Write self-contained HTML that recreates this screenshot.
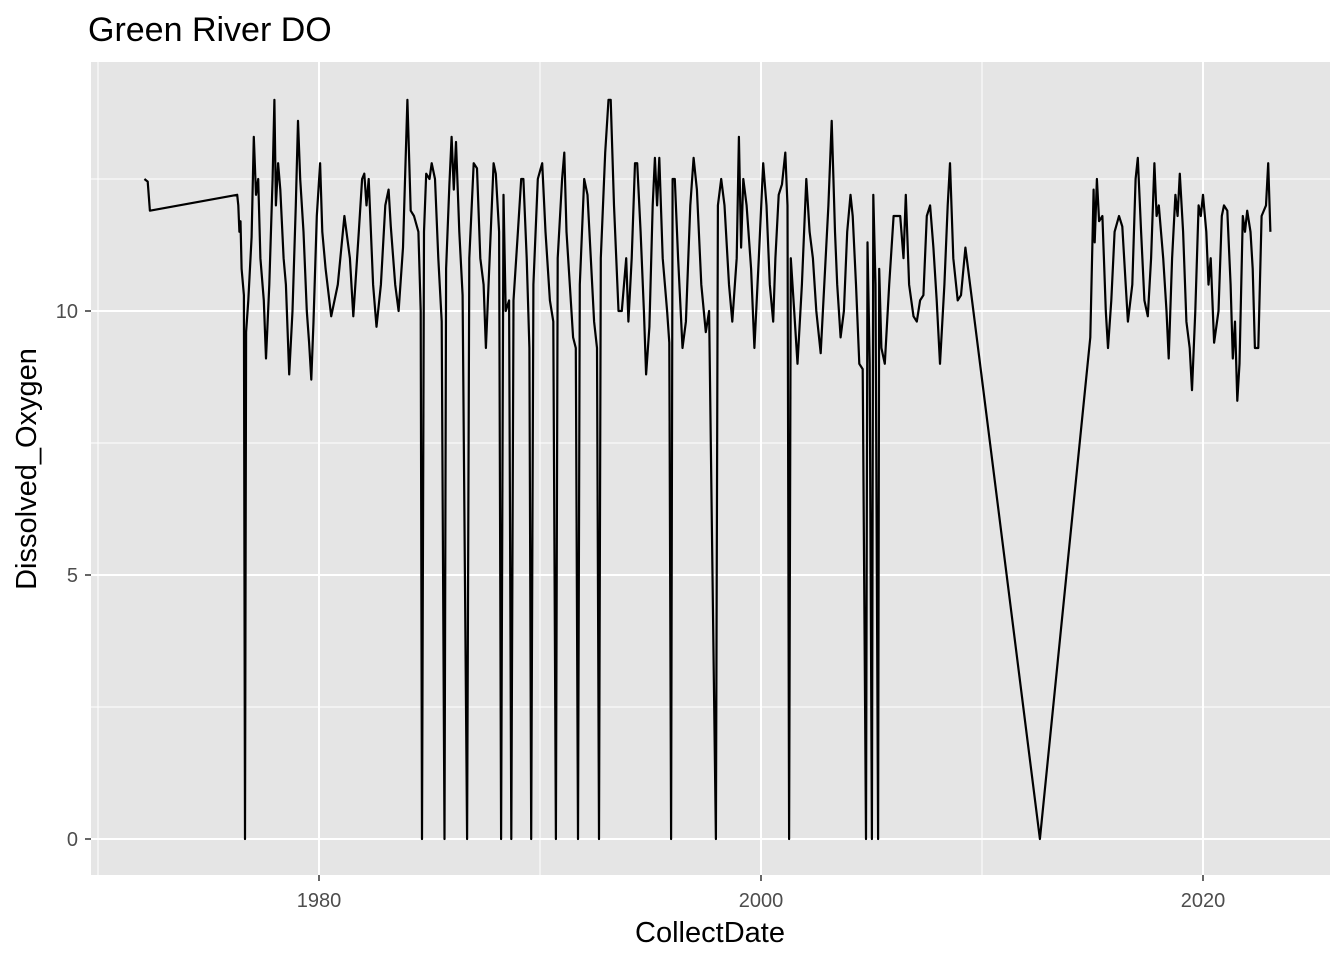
<!DOCTYPE html>
<html><head><meta charset="utf-8"><style>
body{margin:0;background:#fff;}
svg text{font-family:"Liberation Sans",Arial,sans-serif;}
</style></head><body>
<svg id="chart" width="1344" height="960">
<text x="88" y="41" font-size="34" fill="#000">Green River DO</text>
<rect x="91" y="62" width="1239" height="813" fill="#e5e5e5"/>
<g id="grid"></g>
<g id="axes"></g>
<path id="line" fill="none" stroke="#000" stroke-width="2.2" stroke-linejoin="round"/>
<text x="710" y="942" font-size="29" text-anchor="middle">CollectDate</text>
<text transform="translate(36,469) rotate(-90)" font-size="29" text-anchor="middle">Dissolved_Oxygen</text>
</svg>
<script>
const years=[1972.1,1972.25,1972.35,1976.3,1976.35,1976.4,1976.45,1976.5,1976.6,1976.65,1976.7,1976.8,1976.95,1977.05,1977.15,1977.25,1977.35,1977.5,1977.6,1977.75,1977.9,1977.98,1978.05,1978.15,1978.25,1978.4,1978.5,1978.65,1978.8,1978.95,1979.05,1979.15,1979.3,1979.45,1979.55,1979.65,1979.75,1979.9,1980.05,1980.15,1980.3,1980.55,1980.85,1981.15,1981.4,1981.55,1981.8,1981.95,1982.05,1982.15,1982.25,1982.45,1982.6,1982.8,1983.0,1983.15,1983.25,1983.45,1983.6,1983.8,1984.0,1984.15,1984.3,1984.5,1984.6,1984.66,1984.75,1984.85,1985.0,1985.1,1985.25,1985.4,1985.55,1985.68,1985.75,1985.9,1986.0,1986.1,1986.2,1986.35,1986.5,1986.7,1986.8,1987.0,1987.15,1987.3,1987.45,1987.55,1987.7,1987.9,1988.0,1988.15,1988.24,1988.35,1988.45,1988.6,1988.7,1988.8,1989.0,1989.15,1989.25,1989.4,1989.52,1989.6,1989.7,1989.9,1990.1,1990.25,1990.45,1990.6,1990.72,1990.8,1991.0,1991.1,1991.2,1991.35,1991.5,1991.62,1991.72,1991.8,1992.0,1992.15,1992.3,1992.45,1992.58,1992.67,1992.75,1992.95,1993.1,1993.2,1993.35,1993.55,1993.7,1993.9,1994.0,1994.15,1994.3,1994.4,1994.55,1994.7,1994.8,1994.95,1995.1,1995.2,1995.3,1995.4,1995.55,1995.75,1995.85,1995.93,1996.0,1996.1,1996.25,1996.45,1996.6,1996.8,1996.95,1997.1,1997.3,1997.5,1997.65,1997.96,1998.05,1998.2,1998.35,1998.55,1998.7,1998.9,1999.0,1999.1,1999.2,1999.35,1999.55,1999.7,1999.9,2000.1,2000.25,2000.4,2000.55,2000.65,2000.8,2000.95,2001.1,2001.2,2001.27,2001.35,2001.5,2001.65,2001.85,2002.05,2002.2,2002.35,2002.5,2002.7,2002.9,2003.05,2003.2,2003.35,2003.45,2003.6,2003.75,2003.9,2004.05,2004.15,2004.3,2004.45,2004.6,2004.75,2004.82,2004.92,2005.02,2005.08,2005.18,2005.3,2005.35,2005.45,2005.6,2005.8,2006.0,2006.3,2006.45,2006.55,2006.7,2006.9,2007.05,2007.2,2007.35,2007.5,2007.65,2007.8,2007.95,2008.1,2008.3,2008.45,2008.55,2008.7,2008.9,2009.05,2009.25,2012.62,2014.9,2015.05,2015.1,2015.2,2015.3,2015.45,2015.6,2015.7,2015.85,2016.0,2016.2,2016.35,2016.5,2016.6,2016.8,2016.95,2017.05,2017.2,2017.35,2017.5,2017.65,2017.8,2017.9,2018.0,2018.2,2018.35,2018.45,2018.6,2018.75,2018.85,2018.95,2019.1,2019.25,2019.4,2019.5,2019.65,2019.8,2019.9,2020.0,2020.15,2020.25,2020.35,2020.5,2020.7,2020.85,2020.95,2021.1,2021.25,2021.35,2021.45,2021.55,2021.65,2021.8,2021.9,2022.0,2022.15,2022.25,2022.35,2022.5,2022.65,2022.85,2022.95,2023.05];
const oxygen=[12.5,12.45,11.9,12.2,12.0,11.5,11.7,10.8,10.3,0,9.6,10.2,11.4,13.3,12.2,12.5,11.0,10.2,9.1,10.5,12.5,14.0,12.0,12.8,12.3,11.0,10.5,8.8,10.0,12.0,13.6,12.5,11.5,10.0,9.4,8.7,9.8,11.8,12.8,11.5,10.8,9.9,10.5,11.8,11.0,9.9,11.5,12.5,12.6,12.0,12.5,10.5,9.7,10.5,12.0,12.3,11.6,10.5,10.0,11.2,14.0,11.9,11.8,11.5,10.0,0,11.5,12.6,12.5,12.8,12.5,11.0,9.8,0,10.8,12.4,13.3,12.3,13.2,11.5,10.3,0,11.0,12.8,12.7,11.0,10.5,9.3,10.8,12.8,12.6,11.5,0,12.2,10.0,10.2,0,10.2,11.5,12.5,12.5,11.0,9.3,0,10.5,12.5,12.8,11.5,10.2,9.8,0,11.0,12.5,13.0,11.5,10.5,9.5,9.3,0,10.5,12.5,12.2,11.0,9.8,9.3,0,11.0,13.0,14.0,14.0,12.0,10.0,10.0,11.0,9.8,11.0,12.8,12.8,11.5,10.0,8.8,9.7,12.0,12.9,12.0,12.9,11.0,10.0,9.4,0,12.5,12.5,11.0,9.3,9.8,12.0,12.9,12.3,10.5,9.6,10.0,0,12.0,12.5,12.0,10.5,9.8,11.0,13.3,11.2,12.5,12.0,10.8,9.3,11.0,12.8,12.0,10.5,9.8,11.0,12.2,12.4,13.0,12.0,0,11.0,10.0,9.0,10.5,12.5,11.5,11.0,10.0,9.2,10.8,12.0,13.6,11.5,10.5,9.5,10.0,11.5,12.2,11.8,10.5,9.0,8.9,0,11.3,9.0,0,12.2,10.5,0,10.8,9.3,9.0,10.5,11.8,11.8,11.0,12.2,10.5,9.9,9.8,10.2,10.3,11.8,12.0,11.2,10.2,9.0,10.5,12.0,12.8,11.0,10.2,10.3,11.2,0,9.5,12.3,11.3,12.5,11.7,11.8,10.0,9.3,10.2,11.5,11.8,11.6,10.5,9.8,10.5,12.5,12.9,11.5,10.2,9.9,11.0,12.8,11.8,12.0,11.0,10.0,9.1,11.0,12.2,11.8,12.6,11.5,9.8,9.3,8.5,10.0,12.0,11.8,12.2,11.5,10.5,11.0,9.4,10.0,11.8,12.0,11.9,10.5,9.1,9.8,8.3,9.0,11.8,11.5,11.9,11.5,10.8,9.3,9.3,11.8,12.0,12.8,11.5];
const xTicks=[1980,2000,2020];
const xMinor=[1970,1990,2010];
const yTicks=[0,5,10];
const yMinor=[2.5,7.5,12.5];
const NS='http://www.w3.org/2000/svg';
const X=y=>319+(y-1980)*22.1;
const Y=v=>839-v*52.8;
const grid=document.getElementById('grid'),axes=document.getElementById('axes');
function mk(tag,at,parent){const e=document.createElementNS(NS,tag);for(const k in at)e.setAttribute(k,at[k]);parent.appendChild(e);return e;}
xMinor.forEach(t=>{const l=mk('line',{x1:X(t),x2:X(t),y1:62,y2:875,stroke:'#fff','stroke-width':1},grid);

});
yMinor.forEach(t=>{const l=mk('line',{x1:91,x2:1330,y1:Y(t),y2:Y(t),stroke:'#fff','stroke-width':1},grid);

});
xTicks.forEach(t=>{const l=mk('line',{x1:X(t),x2:X(t),y1:62,y2:875,stroke:'#fff','stroke-width':2},grid);


const k=mk('line',{x1:X(t),x2:X(t),y1:875,y2:881,stroke:'#333','stroke-width':1.5},axes);


const tx=mk('text',{x:X(t),y:907,'font-size':20,fill:'#4d4d4d','text-anchor':'middle'},axes);tx.textContent=t;

});
yTicks.forEach(t=>{const l=mk('line',{x1:91,x2:1330,y1:Y(t),y2:Y(t),stroke:'#fff','stroke-width':2},grid);


const k=mk('line',{x1:85,x2:91,y1:Y(t),y2:Y(t),stroke:'#333','stroke-width':1.5},axes);


const tx=mk('text',{x:78,y:Y(t)+7,'font-size':20,fill:'#4d4d4d','text-anchor':'end'},axes);tx.textContent=t;

});
document.getElementById('line').setAttribute('d',years.map((y,i)=>(i?'L':'M')+X(y).toFixed(1)+','+Y(oxygen[i]).toFixed(1)).join(''));
</script>
</body></html>
